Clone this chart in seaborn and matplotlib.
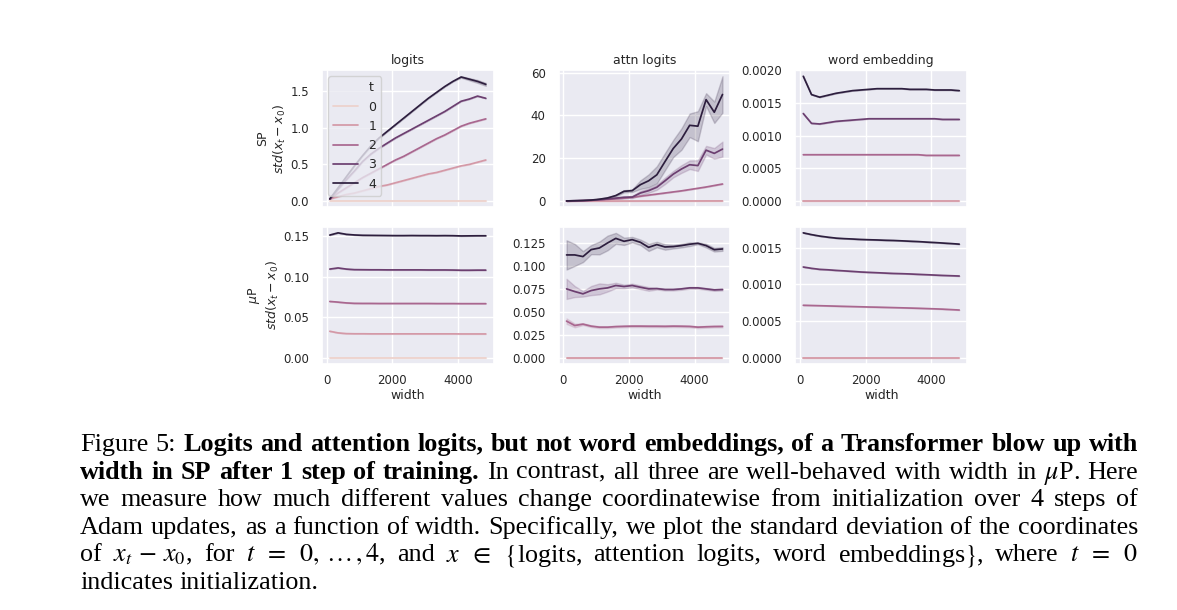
import matplotlib
matplotlib.use("Agg")
import matplotlib.pyplot as plt
from matplotlib.lines import Line2D
from matplotlib.ticker import MultipleLocator
import pandas as pd
import seaborn as sns

# widths used in the sweep (x axis)
widths = [100, 350, 600, 850, 1100, 1350, 1600, 1850, 2100, 2350,
          2600, 2850, 3100, 3350, 3600, 3850, 4100, 4350, 4600, 4850]
steps = [0, 1, 2, 3, 4]
zero_line = [0.0, 0.0, 0.0, 0.0, 0.0, 0.0, 0.0, 0.0, 0.0, 0.0,
             0.0, 0.0, 0.0, 0.0, 0.0, 0.0, 0.0, 0.0, 0.0, 0.0]

# ---- SP row ----
sp_logits = {
    0: zero_line,
    1: [0.03, 0.06, 0.09, 0.11, 0.14, 0.17, 0.20, 0.22, 0.25, 0.28,
        0.31, 0.34, 0.37, 0.39, 0.42, 0.45, 0.48, 0.50, 0.53, 0.56],
    2: [0.03, 0.11, 0.18, 0.25, 0.32, 0.38, 0.44, 0.50, 0.56, 0.61,
        0.67, 0.73, 0.79, 0.85, 0.90, 0.96, 1.02, 1.06, 1.09, 1.12],
    3: [0.03, 0.16, 0.29, 0.41, 0.54, 0.64, 0.72, 0.79, 0.86, 0.92,
        0.98, 1.04, 1.10, 1.16, 1.22, 1.29, 1.36, 1.39, 1.43, 1.40],
    4: [0.03, 0.18, 0.33, 0.48, 0.62, 0.75, 0.86, 0.95, 1.04, 1.13,
        1.22, 1.31, 1.40, 1.48, 1.56, 1.63, 1.69, 1.66, 1.63, 1.59],
}
sp_logits_spread = {
    4: [0.0, 0.0, 0.0, 0.0, 0.0, 0.0, 0.0, 0.0, 0.0, 0.0,
        0.0, 0.0, 0.0, 0.0, 0.0, 0.0, 0.01, 0.015, 0.02, 0.02],
}

sp_attn = {
    0: zero_line,
    1: [0.0, 0.01, 0.01, 0.02, 0.02, 0.03, 0.03, 0.04, 0.04, 0.05,
        0.05, 0.06, 0.06, 0.07, 0.07, 0.08, 0.08, 0.09, 0.09, 0.10],
    2: [0.05, 0.1, 0.2, 0.35, 0.55, 0.8, 1.1, 1.4, 1.8, 2.3,
        2.8, 3.3, 3.8, 4.3, 4.8, 5.4, 6.0, 6.6, 7.3, 8.0],
    3: [0.1, 0.2, 0.3, 0.4, 0.7, 1.0, 1.4, 1.8, 1.9, 3.8,
        4.9, 6.5, 9.5, 12.6, 15.0, 17.0, 16.6, 23.8, 22.3, 24.3],
    4: [0.1, 0.2, 0.3, 0.5, 0.9, 1.5, 2.6, 4.6, 4.9, 7.7,
        9.5, 12.3, 18.5, 24.6, 29.0, 35.4, 35.0, 47.4, 41.5, 49.8],
}
sp_attn_spread = {
    3: [0.0, 0.0, 0.0, 0.0, 0.1, 0.2, 0.3, 0.4, 0.5, 1.0,
        1.0, 1.2, 1.5, 1.5, 1.8, 2.0, 2.5, 2.0, 2.5, 3.5],
    4: [0.0, 0.0, 0.0, 0.1, 0.2, 0.3, 0.4, 0.5, 0.6, 2.0,
        3.0, 4.0, 4.0, 4.0, 5.0, 5.5, 7.0, 3.0, 5.0, 8.5],
}

sp_embed = {
    0: zero_line,
    1: zero_line,
    2: [0.00071, 0.00071, 0.00071, 0.00071, 0.00071, 0.00071, 0.00071, 0.00071, 0.00071, 0.00071,
        0.00071, 0.00071, 0.00071, 0.00071, 0.00071, 0.00070, 0.00070, 0.00070, 0.00070, 0.00070],
    3: [0.00134, 0.00119, 0.00118, 0.00120, 0.00122, 0.00123, 0.00124, 0.00125, 0.00126, 0.00126,
        0.00126, 0.00126, 0.00126, 0.00126, 0.00126, 0.00126, 0.00126, 0.00125, 0.00125, 0.00125],
    4: [0.00191, 0.00163, 0.00159, 0.00162, 0.00165, 0.00167, 0.00169, 0.00170, 0.00171, 0.00172,
        0.00172, 0.00172, 0.00172, 0.00171, 0.00171, 0.00171, 0.00170, 0.00170, 0.00170, 0.00169],
}

# ---- muP row ----
mup_logits = {
    0: zero_line,
    1: [0.0326, 0.0306, 0.0297, 0.0295, 0.0295, 0.0294, 0.0294, 0.0294, 0.0294, 0.0294,
        0.0294, 0.0294, 0.0294, 0.0294, 0.0294, 0.0294, 0.0293, 0.0293, 0.0293, 0.0293],
    2: [0.0693, 0.0685, 0.0675, 0.0670, 0.0669, 0.0669, 0.0668, 0.0668, 0.0668, 0.0668,
        0.0668, 0.0668, 0.0668, 0.0667, 0.0667, 0.0667, 0.0666, 0.0666, 0.0666, 0.0666],
    3: [0.1092, 0.1106, 0.1092, 0.1085, 0.1084, 0.1083, 0.1083, 0.1082, 0.1082, 0.1082,
        0.1082, 0.1082, 0.1081, 0.1081, 0.1081, 0.1080, 0.1078, 0.1078, 0.1079, 0.1079],
    4: [0.1511, 0.1538, 0.1520, 0.1512, 0.1508, 0.1507, 0.1506, 0.1505, 0.1504, 0.1504,
        0.1505, 0.1504, 0.1504, 0.1503, 0.1504, 0.1503, 0.1500, 0.1501, 0.1502, 0.1502],
}

mup_attn = {
    0: zero_line,
    1: zero_line,
    2: [0.0400, 0.0352, 0.0367, 0.0345, 0.0334, 0.0334, 0.0340, 0.0343, 0.0345, 0.0345,
        0.0344, 0.0344, 0.0343, 0.0345, 0.0344, 0.0342, 0.0334, 0.0338, 0.0341, 0.0342],
    3: [0.0752, 0.0723, 0.0698, 0.0734, 0.0752, 0.0763, 0.0789, 0.0778, 0.0789, 0.0770,
        0.0752, 0.0755, 0.0745, 0.0745, 0.0752, 0.0763, 0.0763, 0.0752, 0.0741, 0.0745],
    4: [0.1123, 0.1123, 0.1105, 0.1181, 0.1199, 0.1254, 0.1304, 0.1272, 0.1290, 0.1261,
        0.1206, 0.1236, 0.1210, 0.1214, 0.1225, 0.1240, 0.1250, 0.1225, 0.1180, 0.1188],
}
mup_attn_spread = {
    2: [0.003, 0.002, 0.001, 0.001, 0.001, 0.001, 0.001, 0.001, 0.001, 0.001,
        0.001, 0.001, 0.001, 0.001, 0.001, 0.001, 0.001, 0.001, 0.001, 0.001],
    3: [0.011, 0.006, 0.003, 0.005, 0.006, 0.004, 0.003, 0.002, 0.002, 0.002,
        0.002, 0.001, 0.001, 0.001, 0.001, 0.001, 0.001, 0.001, 0.001, 0.001],
    4: [0.016, 0.012, 0.006, 0.005, 0.007, 0.008, 0.006, 0.004, 0.003, 0.003,
        0.004, 0.003, 0.003, 0.002, 0.002, 0.002, 0.001, 0.002, 0.002, 0.002],
}

mup_embed = {
    0: zero_line,
    1: zero_line,
    2: [0.000716, 0.000713, 0.000710, 0.000707, 0.000704, 0.000701, 0.000698, 0.000695, 0.000692, 0.000690,
        0.000687, 0.000684, 0.000681, 0.000678, 0.000675, 0.000671, 0.000667, 0.000663, 0.000657, 0.000651],
    3: [0.001238, 0.001220, 0.001206, 0.001200, 0.001192, 0.001185, 0.001178, 0.001170, 0.001165, 0.001160,
        0.001155, 0.001150, 0.001147, 0.001143, 0.001138, 0.001133, 0.001128, 0.001123, 0.001119, 0.001115],
    4: [0.001704, 0.001680, 0.001660, 0.001645, 0.001632, 0.001625, 0.001620, 0.001614, 0.001610, 0.001607,
        0.001603, 0.001600, 0.001595, 0.001590, 0.001585, 0.001578, 0.001572, 0.001565, 0.001558, 0.001550],
}

col_titles = ["logits", "attn logits", "word embedding"]
row_labels = ["SP\n$std(x_t - x_0)$", "$\\mu$P\n$std(x_t - x_0)$"]
panels = [
    [(sp_logits, sp_logits_spread), (sp_attn, sp_attn_spread), (sp_embed, {})],
    [(mup_logits, {}), (mup_attn, mup_attn_spread), (mup_embed, {})],
]

caption_lines = [
    "Figure 5: Logits and attention logits, but not word embeddings, of a Transformer blow up with",
    "width in SP after 1 step of training. In contrast, all three are well-behaved with width in $\\mu$P. Here",
    "we measure how much different values change coordinatewise from initialization over 4 steps of",
    "Adam updates, as a function of width. Specifically, we plot the standard deviation of the coordinates",
    "of $x_t\\,-\\,x_0$, for $t\\;\\;=\\;\\;0,\\,\\ldots\\,,4$, and $x\\;\\;\\in\\;\\;\\{$logits, attention logits, word embeddings$\\}$, where $t\\;\\;=\\;\\;0$",
    "indicates initialization.",
]
# [first, last) word indices set in bold on each line
caption_bold = [(2, 16), (0, 8), (0, 0), (0, 0), (0, 0), (0, 0)]


def build_frame(series, spreads):
    # three replicate rows per point: median -> line, min/max -> band
    rows = []
    for t in steps:
        spread = spreads.get(t, zero_line)
        for w, v, s in zip(widths, series[t], spread):
            for val in (v - s, v, v + s):
                rows.append({"width": w, "t": t, "value": val})
    return pd.DataFrame(rows)


sns.set_theme(style="darkgrid", rc={
    "font.size": 9, "axes.titlesize": 9, "axes.labelsize": 9,
    "xtick.labelsize": 8.5, "ytick.labelsize": 8.5, "legend.fontsize": 9,
    "legend.title_fontsize": 9, "xtick.major.pad": 1.5,
})

fig, axes = plt.subplots(2, 3, figsize=(11.77, 6.10), dpi=100, sharex=True)
fig.subplots_adjust(left=0.2736, right=0.8216, top=0.8852, bottom=0.4033,
                    wspace=0.38, hspace=0.14)

for r in range(2):
    for c in range(3):
        ax = axes[r, c]
        series, spreads = panels[r][c]
        df = build_frame(series, spreads)
        sns.lineplot(data=df, x="width", y="value", hue="t",
                     estimator="median", errorbar=("pi", 100),
                     linewidth=1.25, legend=(r == 0 and c == 0) and "full",
                     ax=ax)
        ax.set_xlabel("width" if r == 1 else "", labelpad=1)
        ax.set_ylabel(row_labels[r] if c == 0 else "", labelpad=1.5)
        if r == 0:
            ax.set_title(col_titles[c], pad=4)
        ax.set_xticks([0, 2000, 4000])

axes[1, 1].yaxis.set_major_locator(MultipleLocator(0.025))

# legend in the first panel, with "t" written as a header row
leg_ax = axes[0, 0]
handles, labels = leg_ax.get_legend_handles_labels()
header = Line2D([], [], linestyle="", marker="")
leg_ax.legend([header] + handles, ["t"] + labels, loc="upper left")

# ---- caption, justified like the paper ----
W, H = 1177, 610
cap_left, cap_right = 80, 1138
baselines = [451, 478.6, 506.2, 533.8, 561.4, 589]
renderer = fig.canvas.get_renderer()


def split_words(line):
    out, cur = [], ""
    for piece in line.split(" "):
        cur = piece if not cur else cur + " " + piece
        if cur.count("$") % 2 == 0:
            out.append(cur)
            cur = ""
    return out


def make_text(x, y, s, size, bold):
    return fig.text(x / W, 1 - y / H, s, fontsize=size,
                    fontweight="bold" if bold else "normal",
                    family="Liberation Serif", math_fontfamily="stix",
                    va="baseline", ha="left", color="black")


def word_width(s, size, bold):
    t = make_text(0, 0, s, size, bold)
    w = t.get_window_extent(renderer).width
    t.remove()
    return w


fs = 19.0
words = [split_words(l) for l in caption_lines]
target = cap_right - cap_left
for _ in range(2):
    space = word_width("a a", fs, False) - word_width("aa", fs, False)
    worst = 1.0
    for i, ws in enumerate(words[:-1]):
        b0, b1 = caption_bold[i]
        natural = sum(word_width(w, fs, b0 <= k < b1) for k, w in enumerate(ws))
        natural += space * (len(ws) - 1)
        worst = min(worst, target / natural)
    fs = fs * worst * 0.995 if worst < 1 else fs

space = word_width("a a", fs, False) - word_width("aa", fs, False)
for i, ws in enumerate(words):
    b0, b1 = caption_bold[i]
    wlist = [word_width(w, fs, b0 <= k < b1) for k, w in enumerate(ws)]
    if i < len(words) - 1:
        gap = (target - sum(wlist)) / (len(ws) - 1)
    else:
        gap = space
    x = cap_left
    for k, w in enumerate(ws):
        make_text(x, baselines[i], w, fs, b0 <= k < b1)
        x += wlist[k] + gap

fig.savefig("out.png", dpi=100)
